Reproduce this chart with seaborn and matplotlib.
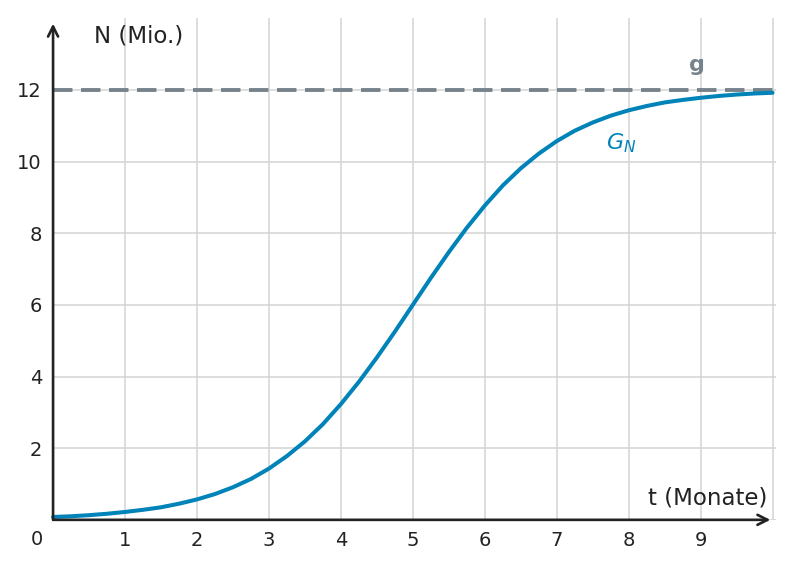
import numpy as np
import pandas as pd
import matplotlib
matplotlib.use("Agg")
import matplotlib.pyplot as plt
import seaborn as sns

# Werte (t in Monaten, N in Mio.)
t_werte = [0.0, 0.25, 0.5, 0.75, 1.0, 1.25, 1.5, 1.75, 2.0, 2.25, 2.5, 2.75,
           3.0, 3.25, 3.5, 3.75, 4.0, 4.25, 4.5, 4.75, 5.0, 5.25, 5.5, 5.75,
           6.0, 6.25, 6.5, 6.75, 7.0, 7.25, 7.5, 7.75, 8.0, 8.25, 8.5, 8.75,
           9.0, 9.25, 9.5, 9.75, 10.0]
n_werte = [0.08, 0.10, 0.13, 0.17, 0.22, 0.28, 0.35, 0.45, 0.57, 0.72, 0.91, 1.14,
           1.43, 1.78, 2.19, 2.67, 3.23, 3.85, 4.53, 5.25, 6.00, 6.75, 7.47, 8.15,
           8.77, 9.33, 9.81, 10.22, 10.57, 10.86, 11.09, 11.28, 11.43, 11.55, 11.65, 11.72,
           11.78, 11.83, 11.87, 11.90, 11.92]
grenze = 12
x_ticks = [1, 2, 3, 4, 5, 6, 7, 8, 9]
y_ticks = [2, 4, 6, 8, 10, 12]

df = pd.DataFrame({"t": t_werte, "N": n_werte})

blau = "#0083b8"
grau = "#77838c"
dunkel = "#222222"

sns.set_style("white")
plt.rcParams["font.family"] = ["DejaVu Sans"]

fig = plt.figure(figsize=(7.92, 5.70), dpi=100)
ax = fig.add_axes([0.067, 0.088, 0.913, 0.880])

ax.set_xlim(0, 10.05)
ax.set_ylim(0, 14)

# Gitter
ax.set_xticks(x_ticks)
ax.set_yticks(y_ticks)
ax.grid(True, color="#d3d3d3", linewidth=1.1)
ax.axvline(10.0, color="#d3d3d3", linewidth=1.1, zorder=0)
ax.axhline(0, color="#d3d3d3", linewidth=1.1, zorder=0)

sns.lineplot(data=df, x="t", y="N", ax=ax, color=blau, linewidth=2.9,
             zorder=4, clip_on=False)
ax.axhline(grenze, color=grau, linewidth=2.8, linestyle=(0, (5, 2.2)), zorder=3)

for s in ax.spines.values():
    s.set_visible(False)

# Achsen mit Pfeilen
ax.annotate("", xy=(9.97, 0), xytext=(0, 0), xycoords="data",
            arrowprops=dict(arrowstyle="->", color=dunkel, lw=1.9,
                            mutation_scale=18, shrinkA=0, shrinkB=0),
            annotation_clip=False, zorder=5)
ax.annotate("", xy=(0, 13.85), xytext=(0, 0), xycoords="data",
            arrowprops=dict(arrowstyle="->", color=dunkel, lw=1.9,
                            mutation_scale=18, shrinkA=0, shrinkB=0),
            annotation_clip=False, zorder=5)

ax.tick_params(axis="both", direction="in", length=5, width=1.6,
               color=dunkel, labelsize=14, labelcolor=dunkel)
ax.tick_params(axis="x", pad=8)
ax.tick_params(axis="y", pad=8)
ax.set_xlabel("")
ax.set_ylabel("")

ax.text(-0.22, -0.55, "0", fontsize=14, color=dunkel, ha="center", va="center")
ax.text(0.57, 13.5, "N (Mio.)", fontsize=16.5, color=dunkel, ha="left", va="center")
ax.text(9.93, 0.6, "t (Monate)", fontsize=16.5, color=dunkel, ha="right", va="center")
ax.text(7.9, 10.5, "$G_N$", fontsize=16, color=blau, ha="center", va="center")
ax.text(8.95, 12.7, "g", fontsize=16, color=grau, fontweight="bold",
        ha="center", va="center")

fig.savefig("out.png", dpi=100)
